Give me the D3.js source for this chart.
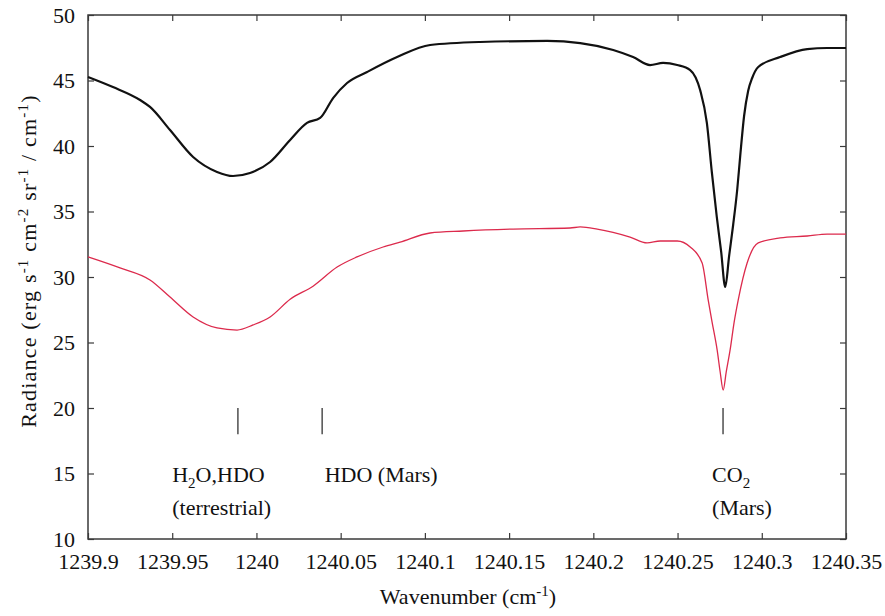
<!DOCTYPE html>
<html>
<head>
<meta charset="utf-8">
<script src="https://cdn.jsdelivr.net/npm/d3@7"></script>
<style>
  body { margin: 0; background: #fff; }
  svg text { font-family: "Liberation Serif", "DejaVu Serif", serif; fill: #111; }
</style>
</head>
<body>
<div id="chart"></div>
<script>
// black spectrum (upper)
const blackWn = [1239.9000, 1239.9148, 1239.9309, 1239.9368, 1239.9487, 1239.9624, 1239.9766, 1239.9861,
  1239.9962, 1240.0081, 1240.0200, 1240.0300, 1240.0378, 1240.0455, 1240.0538, 1240.0657, 1240.0835,
  1240.1031, 1240.1328, 1240.1726, 1240.1922, 1240.2118, 1240.2236, 1240.2337, 1240.2414, 1240.2498,
  1240.2575, 1240.2634, 1240.2674, 1240.2704, 1240.2733, 1240.2759, 1240.2783,
  1240.2806, 1240.2830, 1240.2854, 1240.2872, 1240.2895, 1240.2919, 1240.2943, 1240.2979, 1240.3109,
  1240.3270, 1240.3388, 1240.3500];
const blackRad = [45.27, 44.50, 43.51, 42.98, 41.22, 39.16, 38.02, 37.71,
  37.94, 38.78, 40.46, 41.76, 42.14, 43.66, 44.81, 45.65, 46.79,
  47.71, 47.94, 48.02, 47.86, 47.33, 46.79, 46.18, 46.34, 46.18,
  45.80, 44.27, 41.76, 37.94, 34.58, 31.91, 29.24,
  31.60, 33.97, 36.64, 39.24, 42.29, 44.20, 45.19, 46.03, 46.79,
  47.40, 47.48, 47.48];

// red spectrum (lower)
const redWn = [1239.9000, 1239.9190, 1239.9368, 1239.9487, 1239.9624, 1239.9766, 1239.9885, 1239.9980,
  1240.0081, 1240.0200, 1240.0336, 1240.0479, 1240.0597, 1240.0752, 1240.0853, 1240.1031, 1240.1227,
  1240.1524, 1240.1862, 1240.1922, 1240.2023, 1240.2218, 1240.2319, 1240.2397, 1240.2498, 1240.2575,
  1240.2646, 1240.2682, 1240.2705, 1240.2735, 1240.2753, 1240.2771, 1240.2789, 1240.2812, 1240.2836,
  1240.2860, 1240.2913, 1240.2979, 1240.3109, 1240.3270, 1240.3388, 1240.3500];
const redRad = [31.53, 30.69, 29.77, 28.47, 26.95, 26.11, 25.95, 26.34,
  26.95, 28.30, 29.30, 30.76, 31.53, 32.29, 32.67, 33.36, 33.51,
  33.66, 33.74, 33.82, 33.66, 33.05, 32.60, 32.75, 32.75, 32.29,
  31.07, 28.24, 26.56, 24.43, 22.75, 21.37, 22.75, 24.43, 26.56,
  28.24, 31.07, 32.60, 32.98, 33.13, 33.28, 33.28];

const xTicks = [1239.9, 1239.95, 1240, 1240.05, 1240.1, 1240.15, 1240.2, 1240.25, 1240.3, 1240.35];
const xTickLabels = ["1239.9", "1239.95", "1240", "1240.05", "1240.1", "1240.15", "1240.2", "1240.25", "1240.3", "1240.35"];
const yTicks = [10, 15, 20, 25, 30, 35, 40, 45, 50];

// line identifications
const markWn = [1239.989, 1240.039, 1240.277];
const markTop = 20, markBottom = 18;
const labelWn = [1239.950, 1240.0405, 1240.2705];
const labelLine1 = [["H", "2", "O,HDO"], ["HDO (Mars)", "", ""], ["CO", "2", ""]];
const labelLine2 = ["(terrestrial)", "", "(Mars)"];
const labelRad1 = 14.35, labelRad2 = 11.85;

const width = 885, height = 616;
const margin = { top: 15, right: 39, bottom: 77, left: 88 };
const fontSize = 22;

const svg = d3.select("#chart").append("svg")
  .attr("width", width)
  .attr("height", height);

const x = d3.scaleLinear()
  .domain([1239.9, 1240.35])
  .range([margin.left, width - margin.right]);
const y = d3.scaleLinear()
  .domain([10, 50])
  .range([height - margin.bottom, margin.top]);

const tickLen = 6;
const frameColor = "#3a3a3a";

// axes, ticks inward on all four sides
const fmtX = (d, i) => xTickLabels[i];
svg.append("g")
  .attr("transform", `translate(0,${y(10)})`)
  .call(d3.axisBottom(x).tickValues(xTicks).tickSize(-tickLen).tickPadding(14).tickFormat(fmtX));
svg.append("g")
  .attr("transform", `translate(0,${y(50)})`)
  .call(d3.axisTop(x).tickValues(xTicks).tickSize(-tickLen).tickFormat(""));
svg.append("g")
  .attr("transform", `translate(${x(1239.9)},0)`)
  .call(d3.axisLeft(y).tickValues(yTicks).tickSize(-tickLen).tickPadding(13));
svg.append("g")
  .attr("transform", `translate(${x(1240.35)},0)`)
  .call(d3.axisRight(y).tickValues(yTicks).tickSize(-tickLen).tickFormat(""));

svg.selectAll("g").attr("font-family", null).attr("font-size", fontSize);
svg.selectAll(".domain").remove();
svg.selectAll(".tick line").attr("stroke", frameColor).attr("stroke-width", 1.2);
svg.selectAll(".tick text").attr("fill", "#111");

svg.append("rect")
  .attr("x", x(1239.9))
  .attr("y", y(50))
  .attr("width", x(1240.35) - x(1239.9))
  .attr("height", y(10) - y(50))
  .attr("fill", "none")
  .attr("stroke", frameColor)
  .attr("stroke-width", 1.5);

// spectra
const line = d3.line()
  .x(d => x(d[0]))
  .y(d => y(d[1]))
  .curve(d3.curveMonotoneX);

svg.append("path")
  .datum(redWn.map((w, i) => [w, redRad[i]]))
  .attr("d", line)
  .attr("fill", "none")
  .attr("stroke", "#dc2a4c")
  .attr("stroke-width", 1.3);

svg.append("path")
  .datum(blackWn.map((w, i) => [w, blackRad[i]]))
  .attr("d", line)
  .attr("fill", "none")
  .attr("stroke", "#111")
  .attr("stroke-width", 2.2);

// markers
svg.selectAll(".mark")
  .data(markWn)
  .enter()
  .append("line")
  .attr("class", "mark")
  .attr("x1", d => x(d)).attr("x2", d => x(d))
  .attr("y1", y(markTop)).attr("y2", y(markBottom))
  .attr("stroke", "#333")
  .attr("stroke-width", 1.3);

labelLine1.forEach((parts, i) => {
  const t = svg.append("text")
    .attr("x", x(labelWn[i]))
    .attr("y", y(labelRad1))
    .attr("font-size", fontSize);
  t.append("tspan").text(parts[0]);
  if (parts[1]) t.append("tspan").attr("dy", 6).attr("font-size", 15).text(parts[1]);
  if (parts[2]) t.append("tspan").attr("dy", -6).text(parts[2]);
  if (labelLine2[i]) {
    svg.append("text")
      .attr("x", x(labelWn[i]))
      .attr("y", y(labelRad2))
      .attr("font-size", fontSize)
      .text(labelLine2[i]);
  }
});

// axis titles
const xt = svg.append("text")
  .attr("x", 468)
  .attr("y", 604)
  .attr("text-anchor", "middle")
  .attr("font-size", fontSize);
xt.append("tspan").text("Wavenumber (cm");
xt.append("tspan").attr("dy", -8).attr("font-size", 15).text("-1");
xt.append("tspan").attr("dy", 8).text(")");

const yt = svg.append("text")
  .attr("transform", "translate(36,261) rotate(-90)")
  .attr("text-anchor", "middle")
  .attr("font-size", 22)
  .attr("letter-spacing", 1.2);
const yParts = ["Radiance (erg s", " cm", " sr", " / cm", ")"];
const ySups = ["-1", "-2", "-1", "-1"];
yParts.forEach((p, i) => {
  yt.append("tspan").attr("dy", i === 0 ? 0 : 8).text(p);
  if (i < ySups.length) {
    yt.append("tspan").attr("dy", -8).attr("font-size", 15).text(ySups[i]);
  }
});
</script>
</body>
</html>
